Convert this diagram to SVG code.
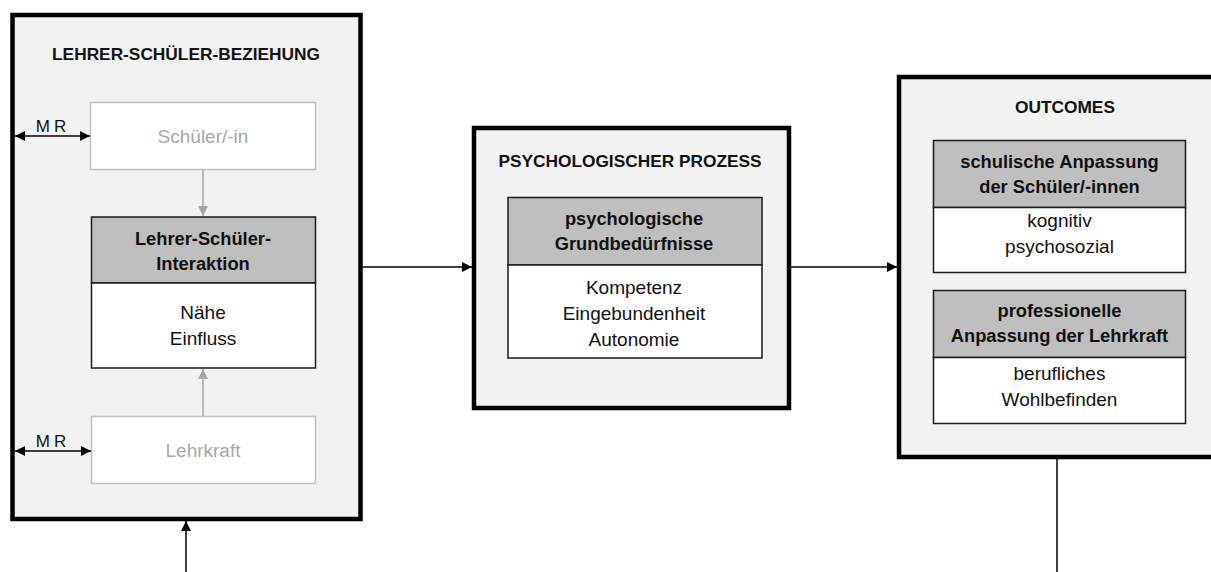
<svg xmlns="http://www.w3.org/2000/svg" width="1211" height="572" viewBox="0 0 1211 572">
  <defs>
    <style>
      .outer { fill: #f2f2f2; stroke: #000; stroke-width: 4.5; }
      .hdr { fill: #bfbfbf; stroke: #1a1a1a; stroke-width: 1.5; }
      .body { fill: #ffffff; stroke: #1a1a1a; stroke-width: 1.5; }
      .ghost { fill: #ffffff; stroke: #bfbfbf; stroke-width: 1.5; }
      text { font-family: "Liberation Sans", Arial, sans-serif; font-size: 19px; fill: #111; text-anchor: middle; }
      .title { font-weight: bold; font-size: 17.3px; }
      .bold { font-weight: bold; font-size: 18.3px; }
      .gtext { fill: #a6a6a6; font-size: 19px; }
      .mr { font-size: 17px; letter-spacing: 4px; }
      .line { stroke: #000; stroke-width: 1.5; fill: none; }
      .gline { stroke: #a6a6a6; stroke-width: 1.5; fill: none; }
    </style>
    <marker id="ah" viewBox="0 0 10 10" refX="10" refY="5" markerWidth="10" markerHeight="10" markerUnits="userSpaceOnUse" orient="auto-start-reverse">
      <path d="M0,0 L10,5 L0,10 z" fill="#000"/>
    </marker>
    <marker id="gah" viewBox="0 0 10 10" refX="10" refY="5" markerWidth="10" markerHeight="10" markerUnits="userSpaceOnUse" orient="auto-start-reverse">
      <path d="M0,0 L10,5 L0,10 z" fill="#a6a6a6"/>
    </marker>
  </defs>

  <g id="beziehung">
    <rect class="outer" x="12.5" y="15" width="348" height="504"/>
    <text class="title" x="186" y="60">LEHRER-SCHÜLER-BEZIEHUNG</text>
  </g>

  <g id="schueler">
    <rect class="ghost" x="90.5" y="102.5" width="225" height="67"/>
    <text class="gtext" x="203" y="143">Schüler/-in</text>
  </g>

  <g id="interaktion">
    <rect class="hdr" x="91.5" y="217" width="224" height="66"/>
    <rect class="body" x="91.5" y="283" width="224" height="85"/>
    <text class="bold" x="203" y="245">Lehrer-Schüler-</text>
    <text class="bold" x="203" y="270">Interaktion</text>
    <text x="203" y="319">Nähe</text>
    <text x="203" y="345">Einfluss</text>
  </g>

  <g id="lehrkraft">
    <rect class="ghost" x="91.5" y="416.5" width="224" height="67"/>
    <text class="gtext" x="203" y="457">Lehrkraft</text>
  </g>

  <g id="prozess">
    <rect class="outer" x="474" y="128" width="315" height="280"/>
    <text class="title" x="630" y="167">PSYCHOLOGISCHER PROZESS</text>
    <rect class="hdr" x="508" y="197.5" width="254" height="67.5"/>
    <rect class="body" x="508" y="265" width="254" height="93"/>
    <text class="bold" x="634" y="225">psychologische</text>
    <text class="bold" x="634" y="250">Grundbedürfnisse</text>
    <text x="634" y="294">Kompetenz</text>
    <text x="634" y="320">Eingebundenheit</text>
    <text x="634" y="346">Autonomie</text>
  </g>

  <g id="outcomes">
    <rect class="outer" x="899" y="77" width="324" height="380"/>
    <text class="title" x="1065" y="113">OUTCOMES</text>
  </g>

  <g id="schulisch">
    <rect class="hdr" x="933.5" y="140.5" width="252" height="67"/>
    <rect class="body" x="933.5" y="207.5" width="252" height="65"/>
    <text class="bold" x="1059.5" y="168">schulische Anpassung</text>
    <text class="bold" x="1059.5" y="193">der Schüler/-innen</text>
    <text x="1059.5" y="227">kognitiv</text>
    <text x="1059.5" y="253">psychosozial</text>
  </g>

  <g id="professionell">
    <rect class="hdr" x="933.5" y="290.5" width="252" height="67"/>
    <rect class="body" x="933.5" y="357.5" width="252" height="66"/>
    <text class="bold" x="1059.5" y="317">professionelle</text>
    <text class="bold" x="1059.5" y="342">Anpassung der Lehrkraft</text>
    <text x="1059.5" y="380">berufliches</text>
    <text x="1059.5" y="406">Wohlbefinden</text>
  </g>

  <g id="connectors">
    <line class="gline" x1="203" y1="170" x2="203" y2="216" marker-end="url(#gah)"/>
    <line class="gline" x1="203" y1="416" x2="203" y2="369" marker-end="url(#gah)"/>
    <line class="line" x1="15" y1="136" x2="90" y2="136" marker-start="url(#ah)" marker-end="url(#ah)"/>
    <line class="line" x1="15" y1="451" x2="91" y2="451" marker-start="url(#ah)" marker-end="url(#ah)"/>
    <line class="line" x1="363" y1="267" x2="472" y2="267" marker-end="url(#ah)"/>
    <line class="line" x1="791" y1="267" x2="897" y2="267" marker-end="url(#ah)"/>
    <line class="line" x1="1057" y1="459" x2="1057" y2="572"/>
    <line class="line" x1="186" y1="572" x2="186" y2="521" marker-end="url(#ah)"/>
    <text class="mr" x="53" y="132">MR</text>
    <text class="mr" x="53" y="447">MR</text>
  </g>
</svg>
